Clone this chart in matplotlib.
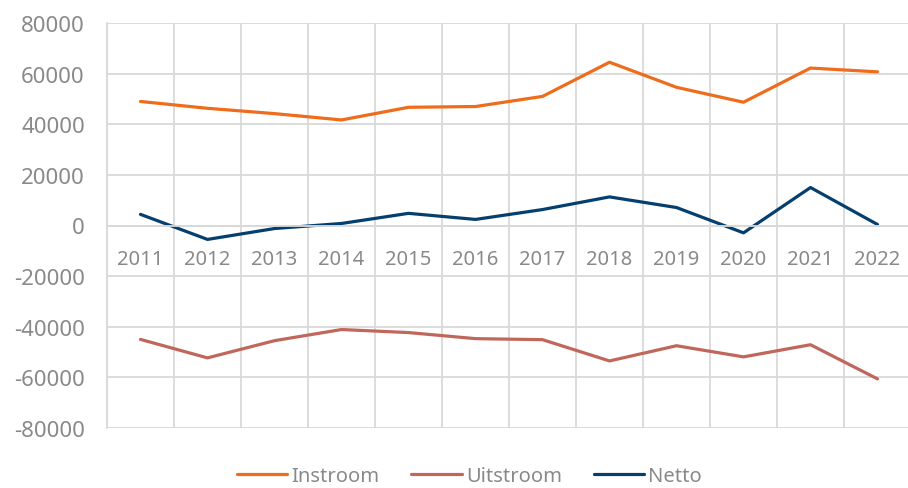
import numpy as np
import matplotlib.pyplot as plt
from matplotlib.ticker import MultipleLocator

plt.rcParams['font.family'] = ['Noto Sans', 'DejaVu Sans']
plt.rcParams['axes.unicode_minus'] = False

years = ['2011', '2012', '2013', '2014', '2015', '2016',
         '2017', '2018', '2019', '2020', '2021', '2022']
instroom = [49000, 46300, 44200, 41700, 46700, 47000,
            51000, 64500, 54600, 48700, 62200, 60700]
uitstroom = [-45000, -52300, -45500, -41100, -42300, -44700,
             -45100, -53500, -47500, -51900, -47100, -60600]
netto = [4400, -5500, -1200, 800, 4800, 2400,
         6300, 11300, 7100, -2900, 15000, 400]

grid_c = '#d9d9d9'
text_c = '#898989'

fig = plt.figure(figsize=(9.08, 4.89), dpi=100)
ax = fig.add_axes([107/908, 60/489, 804/908, 405/489])

x = np.arange(len(years))
ax.plot(x, instroom, color='#ee6c1b', lw=2.3, label='Instroom', solid_capstyle='round')
ax.plot(x, uitstroom, color='#c0675c', lw=2.3, label='Uitstroom', solid_capstyle='round')
ax.plot(x, netto, color='#053f6e', lw=2.3, label='Netto', solid_capstyle='round')

ax.set_xlim(-0.5, len(years) - 0.5)
ax.set_ylim(-80000, 80000)
ax.yaxis.set_major_locator(MultipleLocator(20000))
ax.set_xticks(x)
ax.set_xticklabels(years)
ax.set_xticks(np.arange(-0.5, len(years), 1), minor=True)

ax.grid(axis='y', which='major', color=grid_c, lw=1.3)
ax.grid(axis='x', which='minor', color=grid_c, lw=1.3)
ax.set_axisbelow(True)

for s in ['top', 'right']:
    ax.spines[s].set_visible(False)
ax.spines['left'].set_color(grid_c)
ax.spines['left'].set_linewidth(1.3)
ax.spines['bottom'].set_position(('data', 0))
ax.spines['bottom'].set_color(grid_c)
ax.spines['bottom'].set_linewidth(1.3)

ax.tick_params(axis='both', which='both', length=0)
ax.tick_params(axis='y', labelsize=16, labelcolor=text_c, pad=16)
ax.tick_params(axis='x', labelsize=14.5, labelcolor=text_c, pad=17)

fig.legend(loc='center', bbox_to_anchor=(0.517, 0.025), ncol=3, frameon=False,
           fontsize=14.5, labelcolor=text_c, handlelength=2.5, handletextpad=0.2,
           columnspacing=1.6, borderpad=0.1)

fig.savefig('out.png', dpi=100)
